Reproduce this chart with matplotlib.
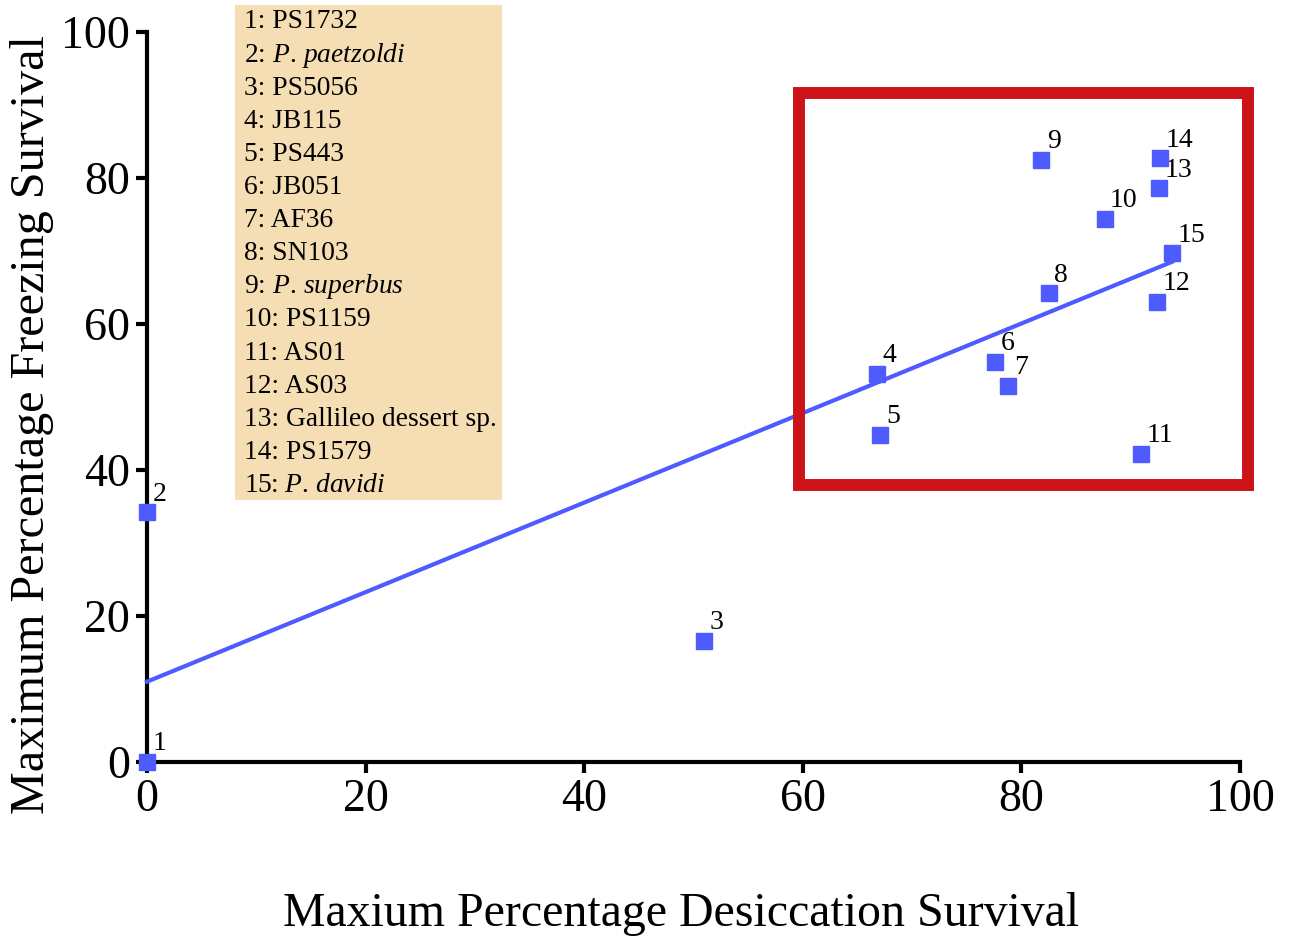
import numpy as np
import matplotlib
matplotlib.use("Agg")
import matplotlib.pyplot as plt
from matplotlib.patches import Rectangle

plt.rcParams['font.family'] = ['Liberation Serif', 'DejaVu Serif']
plt.rcParams['mathtext.fontset'] = 'custom'
plt.rcParams['mathtext.rm'] = 'Liberation Serif'
plt.rcParams['mathtext.it'] = 'Liberation Serif:italic'

# data
ids = list(range(1, 16))
desiccation = [0, 0, 51.0, 66.8, 67.1, 77.6, 78.8, 82.5, 81.8, 87.6, 90.9, 92.4, 92.6, 92.7, 93.8]
freezing = [0, 34.2, 16.6, 53.2, 44.8, 54.8, 51.5, 64.2, 82.5, 74.4, 42.2, 63.0, 78.6, 82.7, 69.7]
names = ["PS1732", r"$\it{P.\,paetzoldi}$", "PS5056", "JB115", "PS443", "JB051", "AF36",
         "SN103", r"$\it{P.\,superbus}$", "PS1159", "AS01", "AS03", "Gallileo dessert sp.",
         "PS1579", r"$\it{P.\,davidi}$"]
highlight = (59.65, 37.9, 100.7, 91.6)  # x0, y0, x1, y1

blue = '#4D5BFF'

fig = plt.figure(figsize=(12.92, 9.42), dpi=100)
ax = fig.add_axes([0.1138, 0.1911, 0.846, 0.775])

x = np.array(desiccation)
y = np.array(freezing)
slope, icpt = np.polyfit(x, y, 1)
xs = np.array([0, x.max()])
ax.plot(xs, slope * xs + icpt, color=blue, lw=3, zorder=3, clip_on=False)

ax.plot(x, y, 's', color=blue, ms=11.5, zorder=4, clip_on=False)
for i, xi, yi in zip(ids, x, y):
    ax.annotate(str(i), (xi, yi), xytext=(4, 4), textcoords='offset points',
                ha='left', va='bottom', fontsize=20)

x0, y0, x1, y1 = highlight
ax.add_patch(Rectangle((x0, y0), x1 - x0, y1 - y0, fill=False, ec='#CC1418',
                       lw=8.6, clip_on=False, zorder=5))

ax.set_xlim(0, 100)
ax.set_ylim(0, 100)
ax.set_xticks(range(0, 101, 20))
ax.set_yticks(range(0, 101, 20))
for s in ['top', 'right']:
    ax.spines[s].set_visible(False)
for s in ['left', 'bottom']:
    ax.spines[s].set_linewidth(3)
ax.tick_params(width=3, length=8, labelsize=33, pad=4)
ax.set_xlabel("Maxium Percentage Desiccation Survival", fontsize=34.5)
ax.set_ylabel("Maximum Percentage Freezing Survival", fontsize=34.7)
ax.xaxis.set_label_coords(0.4886, -0.178)
ax.yaxis.set_label_coords(-0.085, 0.4616)

# key box
fig.patches.append(Rectangle((235 / 1292, 1 - 500 / 942), 267 / 1292, 495 / 942,
                             transform=fig.transFigure, fc='#F5DEB3', ec='none', zorder=0))
for k, (i, nm) in enumerate(zip(ids, names)):
    fig.text(244 / 1292, 1 - (22 + 33.1 * k) / 942, f"{i}: {nm}", fontsize=19.8,
             va='center', ha='left')

fig.savefig("out.png", dpi=100)
